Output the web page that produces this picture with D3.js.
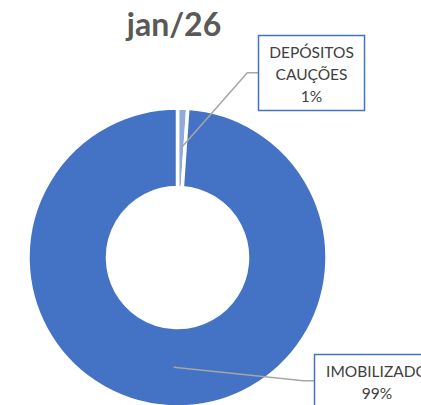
<!DOCTYPE html>
<html>
<head>
<meta charset="utf-8">
<script src="https://cdn.jsdelivr.net/npm/d3@7"></script>
<style>
  body { margin: 0; background: #fff; }
  svg { display: block; }
</style>
</head>
<body>
<svg id="chart" width="421" height="405"></svg>
<script>
// chart data
var title = "jan/26";
var categories = ["DEPÓSITOS CAUÇÕES", "IMOBILIZADO"];
var values = [1.1, 98.9];
var colors = ["#8FAADC", "#4472C4"];

var svg = d3.select("#chart"),
    width = 421,
    height = 405,
    cx = 177.5,
    cy = 257.5,
    innerR = 70,
    outerR = 149.5;

svg.append("text")
  .attr("x", 174)
  .attr("y", 36)
  .attr("text-anchor", "middle")
  .attr("font-family", "Lato, 'Open Sans', sans-serif")
  .attr("font-weight", "bold")
  .attr("font-size", 32)
  .attr("fill", "#595959")
  .text(title);

var total = d3.sum(values);
var pie = d3.pie().sort(null).value(function(d) { return d; });
var arc = d3.arc().innerRadius(innerR).outerRadius(outerR);
var arcs = pie(values);

var g = svg.append("g").attr("transform", "translate(" + cx + "," + cy + ")");

g.selectAll("path.slice")
  .data(arcs)
  .enter().append("path")
  .attr("class", "slice")
  .attr("d", arc)
  .attr("fill", function(d, i) { return colors[i]; })
  .attr("stroke", "#fff")
  .attr("stroke-width", 3.5)
  .attr("stroke-linejoin", "miter");

// label boxes (layout)
var boxes = [
  {x: 258.5, y: 35.5, w: 106, h: 75, lines: ["DEPÓSITOS", "CAUÇÕES"], anchorY: 72.7, elbowX: 247.3},
  {x: 314.5, y: 354.5, w: 125, h: 60, lines: ["IMOBILIZADO"], anchorY: 380.7, elbowX: 303.3}
];

arcs.forEach(function(a, i) {
  var b = boxes[i];
  var c = arc.centroid(a);
  var sx = cx + c[0], sy = cy + c[1];
  var pct = Math.round(a.value / total * 100) + "%";

  svg.append("polyline")
    .attr("points", [[sx, sy], [b.elbowX, b.anchorY], [b.x, b.anchorY]].map(function(p) { return p.join(","); }).join(" "))
    .attr("fill", "none")
    .attr("stroke", "#A6A6A6")
    .attr("stroke-width", 1.5);

  svg.append("rect")
    .attr("x", b.x)
    .attr("y", b.y)
    .attr("width", b.w)
    .attr("height", b.h)
    .attr("fill", "#fff")
    .attr("stroke", "#4472C4")
    .attr("stroke-width", 1.5);

  var lines = b.lines.concat([pct]);
  var t = svg.append("text")
    .attr("text-anchor", "middle")
    .attr("font-family", "Lato, 'Open Sans', sans-serif")
    .attr("font-size", 15.5)
    .attr("fill", "#404040");
  lines.forEach(function(l, k) {
    t.append("tspan")
      .attr("x", b.x + b.w / 2)
      .attr("y", b.y + 22 + k * 22)
      .text(l);
  });
});
</script>
</body>
</html>
